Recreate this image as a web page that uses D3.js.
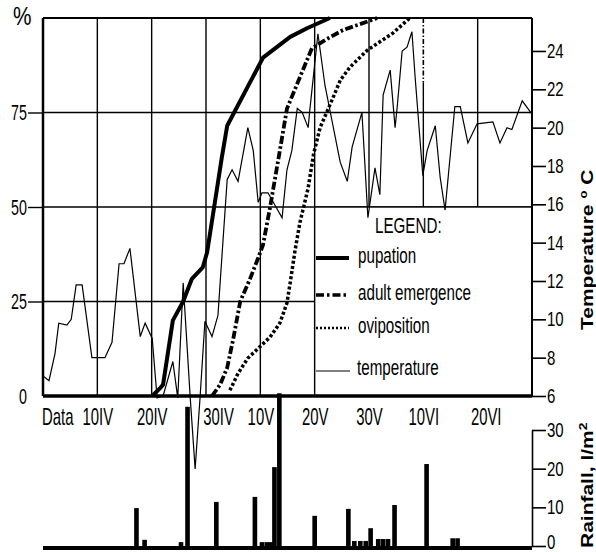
<!DOCTYPE html>
<head>
  <meta charset="utf-8">
  <style>
    body { margin: 0; background: #fff; }
    text { font-family: 'Liberation Sans', Arial, sans-serif; fill: #000; }
  </style>
</head>
<body>
<script src="https://cdn.jsdelivr.net/npm/d3@7"></script>
<script>
  // page + plot box
  const width = 596;
  const height = 552;
  const plot = {left: 43, right: 532, top: 18, bottom: 396};
  const rainBox = {top: 430, bottom: 546};

  // x is counted in days from the 31 III ("Data") origin, one gridline per 10 days
  const dateTicks = [10, 20, 30, 40, 50, 60, 70, 80];
  const dateLabels = ["10IV", "20IV", "30IV", "10V", "20V", "30V", "10VI", "20VI"];
  const pctTicks = [0, 25, 50, 75];
  const tempTicks = [6, 8, 10, 12, 14, 16, 18, 20, 22, 24];
  const rainTicks = [0, 10, 20, 30];

  // temperature, oC (thin line)
  const tempDay = [0.2, 1.1, 2.2, 2.9, 4.4, 5.2, 6.1, 7.2, 9.0, 11.4, 12.7, 14.0, 14.9, 16.0, 17.9, 18.8,
    20.1, 21.0, 22.1, 23.9, 24.8, 25.8, 27.1, 28.0, 28.9, 29.8, 31.1, 32.2, 32.6, 33.9, 34.8, 35.9,
    37.7, 38.7, 39.6, 40.3, 41.4, 44.0, 44.9, 45.8, 46.8, 47.7, 48.8, 49.1, 50.6, 51.9, 54.7, 56.0,
    56.9, 58.7, 59.8, 61.1, 62.0, 62.6, 63.9, 64.8, 65.2, 66.1, 67.0, 67.9, 68.5, 69.9, 70.7, 72.2,
    73.1, 74.0, 75.8, 76.8, 78.2, 79.9, 82.8, 84.1, 85.4, 86.3, 88.2, 90.0];
  const tempVal = [7.0, 6.8, 8.2, 9.8, 9.7, 10.0, 11.8, 11.8, 8.0, 8.0, 8.8, 12.9, 12.9, 13.7, 9.1, 9.8,
    9.0, 5.9, 6.0, 7.8, 5.9, 11.9, 5.9, 2.2, 5.9, 9.9, 9.1, 10.2, 11.9, 17.3, 17.8, 17.2,
    20.0, 18.8, 16.1, 16.6, 16.6, 15.3, 17.8, 18.8, 21.0, 20.8, 20.0, 20.9, 24.9, 22.2, 18.2, 17.2,
    19.0, 20.8, 15.3, 17.9, 16.5, 21.7, 23.0, 20.0, 21.1, 24.0, 24.2, 25.0, 22.6, 17.5, 18.8, 20.1,
    17.4, 15.7, 21.1, 21.1, 19.2, 20.2, 20.3, 19.2, 20.0, 19.9, 21.4, 20.7];

  // cumulative %, pupation
  const pupDay = [20.1, 21.5, 22.1, 23.9, 25.8, 27.4, 29.4, 30.2, 31.5, 32.9, 33.9, 40.5, 42.3, 45.5, 48.6, 52.8];
  const pupPct = [0, 2, 3, 20, 25, 31, 34, 38, 50, 63, 71.5, 89.5, 91.5, 95, 97.3, 100];

  // cumulative %, adult emergence
  const emeDay = [31.1, 32.6, 33.9, 35.0, 36.3, 38.1, 39.6, 40.5, 41.8, 43.0, 43.6, 44.9, 46.9, 49.5, 52.3, 55.2, 59.6, 61.5];
  const emePct = [0, 3, 7.5, 15, 25, 31, 36.5, 40, 50, 60, 65, 76, 83, 92, 94.5, 96.8, 99, 100];

  // cumulative %, oviposition
  const oviDay = [34.4, 35.9, 37.7, 39.9, 41.8, 43.6, 44.9, 45.5, 46.4, 47.3, 48.8, 49.8, 51.0, 53.4, 54.7, 56.5, 59.7, 64.4, 67.5];
  const oviPct = [1.5, 6, 10, 13, 15.6, 19.3, 24.6, 30, 38.6, 46, 55, 64, 71, 79, 83.5, 87, 91.5, 96, 100];

  // rainfall, l/m2
  const rainDay = [17.2, 18.7, 25.4, 26.6, 31.9, 39.0, 40.3, 41.2, 42.0, 42.6, 43.5, 50.0, 56.2, 57.3, 58.4,
    59.4, 60.3, 61.7, 62.6, 63.5, 64.7, 70.6, 75.4, 76.3];
  const rainVal = [9.8, 1.6, 1.0, 36, 11.4, 12.7, 1.0, 1.0, 1.0, 20.4, 39.5, 7.8, 9.6, 1.3, 1.3,
    1.3, 4.6, 1.8, 1.8, 1.8, 10.6, 21.2, 2.0, 2.0];

  const series = [
    {name: "pupation", day: pupDay, pct: pupPct, w: 4, dash: null, key: [4, null]},
    {name: "adult emergence", day: emeDay, pct: emePct, w: 3.8, dash: "8,2.5,2.5,2.5", key: [3.5, "8,3,2.5,3"]},
    {name: "oviposition", day: oviDay, pct: oviPct, w: 3.5, dash: "3,2.2", key: [2.5, "2,2"]},
  ];

  const svg = d3.select("body").append("svg")
    .attr("width", width)
    .attr("height", height);
  svg.append("rect").attr("width", width).attr("height", height).attr("fill", "#fff");

  const x = d3.scaleLinear().domain([0, 90]).range([plot.left, plot.right]);
  const yPct = d3.scaleLinear().domain([0, 100]).range([plot.bottom, plot.top]);
  const yTemp = d3.scaleLinear().domain([6, 25.72]).range([plot.bottom, plot.top]);
  const yRain = d3.scaleLinear().domain([0, 30]).range([rainBox.bottom, rainBox.top]);

  // the scan's lettering is tall and narrow -> squeeze horizontally
  function label(g, str, px, py, size, sx, anchor) {
    return g.append("text")
      .attr("transform", "translate(" + px + "," + py + ") scale(" + sx + ",1)")
      .attr("text-anchor", anchor || "start")
      .style("font-size", size + "px")
      .text(str);
  }

  //-----------------------------GRID-----------------------------//
  const grid = svg.append("g").attr("stroke", "#000").attr("stroke-width", 1.4);
  grid.selectAll("line.v").data(dateTicks).enter().append("line")
    .attr("x1", d => x(d)).attr("x2", d => x(d))
    .attr("y1", d => d === 70 ? yPct(83) : plot.top)
    .attr("y2", d => d > 50 ? yPct(50) : plot.bottom);
  // top of the 10VI line is broken in the scan
  grid.append("line")
    .attr("x1", x(70)).attr("x2", x(70))
    .attr("y1", plot.top).attr("y2", yPct(83))
    .attr("stroke-width", 1.6)
    .attr("stroke-dasharray", "5,2,1.5,2");
  grid.selectAll("line.h").data(pctTicks.filter(d => d > 0)).enter().append("line")
    .attr("x1", plot.left).attr("x2", plot.right)
    .attr("y1", d => yPct(d)).attr("y2", d => yPct(d));

  // legend box hides the grid in the lower right corner
  svg.append("rect")
    .attr("x", x(50)).attr("y", yPct(50))
    .attr("width", x(90) - x(50)).attr("height", plot.bottom - yPct(50))
    .attr("fill", "#fff").attr("stroke", "#000").attr("stroke-width", 1.4);

  //-----------------------------RAIN-----------------------------//
  const barW = x(0.85) - x(0);
  svg.append("g").selectAll("rect").data(d3.zip(rainDay, rainVal)).enter().append("rect")
    .attr("x", d => x(d[0]) - barW / 2)
    .attr("y", d => yRain(d[1]))
    .attr("width", barW)
    .attr("height", d => yRain(0) - yRain(d[1]))
    .attr("fill", "#000");

  //----------------------------LINES-----------------------------//
  const pctLine = d3.line().x(d => x(d[0])).y(d => yPct(d[1]));
  series.forEach(s => {
    svg.append("path")
      .datum(d3.zip(s.day, s.pct))
      .attr("d", pctLine)
      .attr("fill", "none")
      .attr("stroke", "#000")
      .attr("stroke-width", s.w)
      .attr("stroke-dasharray", s.dash)
      .attr("stroke-linejoin", "round");
  });

  const tempLine = d3.line().x(d => x(d[0])).y(d => yTemp(d[1]));
  svg.append("path")
    .datum(d3.zip(tempDay, tempVal))
    .attr("d", tempLine)
    .attr("fill", "none")
    .attr("stroke", "#000")
    .attr("stroke-width", 1.2);

  //-----------------------------FRAME----------------------------//
  const frame = svg.append("g").attr("stroke", "#000");
  frame.append("line").attr("x1", plot.left).attr("x2", plot.right).attr("y1", plot.top).attr("y2", plot.top).attr("stroke-width", 1.8);
  frame.append("line").attr("x1", plot.left).attr("x2", plot.left).attr("y1", plot.top).attr("y2", plot.bottom).attr("stroke-width", 2.5);
  frame.append("line").attr("x1", plot.right).attr("x2", plot.right).attr("y1", plot.top).attr("y2", plot.bottom).attr("stroke-width", 2);
  frame.append("line").attr("x1", plot.left).attr("x2", plot.right).attr("y1", plot.bottom).attr("y2", plot.bottom).attr("stroke-width", 3.5);
  frame.append("line").attr("x1", plot.left).attr("x2", plot.right).attr("y1", rainBox.bottom + 2).attr("y2", rainBox.bottom + 2).attr("stroke-width", 4);

  //-----------------------------AXES-----------------------------//
  const sxNum = 0.65;
  const yaxis = d3.axisLeft(yPct).tickValues(pctTicks).tickSize(15).tickPadding(1);
  const gy = svg.append("g").attr("transform", "translate(" + plot.left + ",0)").call(yaxis);
  gy.select(".domain").remove();
  gy.selectAll(".tick line").attr("stroke-width", 1.4).filter(d => d === 0).remove();
  gy.selectAll(".tick text")
    .style("font-size", "22px")
    .attr("transform", "scale(" + sxNum + ",1)")
    .attr("x", -16 / sxNum);

  const sxR = 0.75;
  const taxis = d3.axisRight(yTemp).tickValues(tempTicks).tickSize(14).tickPadding(1);
  const gt = svg.append("g").attr("transform", "translate(" + plot.right + ",0)").call(taxis);
  gt.select(".domain").remove();
  gt.selectAll(".tick line").attr("stroke-width", 1.6);
  gt.selectAll(".tick text")
    .style("font-size", "20px")
    .attr("transform", "scale(" + sxR + ",1)")
    .attr("x", 15 / sxR);

  const raxis = d3.axisRight(yRain).tickValues(rainTicks).tickSize(14).tickSizeOuter(0).tickPadding(1);
  const gr = svg.append("g").attr("transform", "translate(" + plot.right + ",0)").call(raxis);
  gr.select(".domain").attr("stroke-width", 1.6);
  gr.selectAll(".tick line").attr("stroke-width", 1.6);
  gr.selectAll(".tick text")
    .style("font-size", "20px")
    .attr("transform", "scale(" + sxR + ",1)")
    .attr("x", 15 / sxR)
    .attr("y", d => d === 0 ? -4 : 0);

  const sxDate = 0.62;
  const xaxis = d3.axisBottom(x).tickValues(dateTicks).tickFormat((d, i) => dateLabels[i]).tickSize(0).tickPadding(12);
  const gx = svg.append("g").attr("transform", "translate(0," + plot.bottom + ")").call(xaxis);
  gx.select(".domain").remove();
  gx.selectAll(".tick text")
    .style("font-size", "24px")
    .attr("transform", "scale(" + sxDate + ",1)")
    .attr("x", d => (d === 30 ? 12 : d === 80 ? 8 : 0) / sxDate);

  const labels = svg.append("g");
  label(labels, "Data", plot.left - 1, plot.bottom + 29, 24, sxDate, "start");
  label(labels, "%", 13, 25, 26, 0.8, "start");

  // rotated titles on the right
  const tTitle = labels.append("text")
    .attr("transform", "translate(593,330) scale(0.8,1) rotate(-90)")
    .style("font-size", "21px").style("font-weight", "bold");
  tTitle.append("tspan").text("Temperature ");
  tTitle.append("tspan").attr("dy", -8).style("font-size", "13px").text("o");
  tTitle.append("tspan").attr("dy", 8).text(" C");

  const rTitle = labels.append("text")
    .attr("transform", "translate(593,548) scale(0.8,1) rotate(-90)")
    .style("font-size", "21px").style("font-weight", "bold");
  rTitle.append("tspan").text("Rainfall, l/m");
  rTitle.append("tspan").attr("dy", -8).style("font-size", "14px").text("2");

  //-----------------------------LEGEND---------------------------//
  const sxLeg = 0.69;
  const leg = svg.append("g");
  label(leg, "LEGEND:", 375, 233, 22, sxLeg, "start");
  const keyY = [258, 295, 328];
  const textY = [263, 300, 333];
  series.forEach((s, i) => {
    leg.append("line")
      .attr("x1", 316).attr("x2", 349)
      .attr("y1", keyY[i]).attr("y2", keyY[i])
      .attr("stroke", "#000")
      .attr("stroke-width", s.key[0])
      .attr("stroke-dasharray", s.key[1]);
    label(leg, s.name, 358, textY[i], 22, sxLeg, "start");
  });
  leg.append("line")
    .attr("x1", 316).attr("x2", 350)
    .attr("y1", 371).attr("y2", 371)
    .attr("stroke", "#000").attr("stroke-width", 1.2);
  label(leg, "temperature", 357, 375, 22, sxLeg, "start");
</script>
</body>
